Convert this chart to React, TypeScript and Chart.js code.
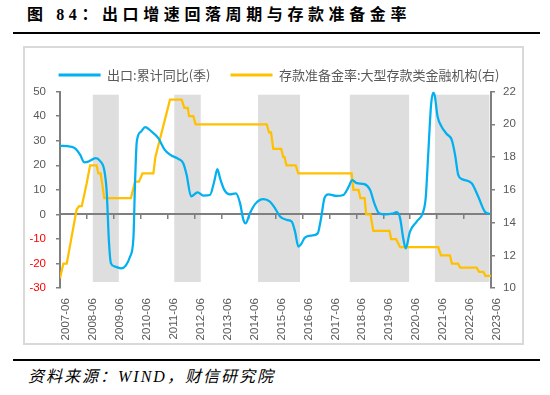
import React, { useEffect, useRef } from "react";
import { Chart, registerables } from "chart.js";

Chart.register(...registerables);

// ---- data ----
const yearLabels = [
  "2007-06", "2008-06", "2009-06", "2010-06", "2011-06", "2012-06", "2013-06", "2014-06", "2015-06",
  "2016-06", "2017-06", "2018-06", "2019-06", "2020-06", "2021-06", "2022-06", "2023-06",
];

// month offsets from 2007-06 (x positions on the time axis)
const exportMonths = [
  0, 4.5, 7, 9, 10.8, 12.6, 15.9, 17.8, 19.7, 20.8, 21.8, 22.7, 24.5, 27.2, 29.3, 31.2, 32.7, 33.4, 34.2,
  36.1, 37.9, 40.8, 43.8, 46.5, 49, 52.7, 54.9, 56.4, 58.4, 61.3, 63.8, 66.8, 68.7, 70.1, 71.3, 73.2, 75.7,
  78.4, 80.2, 81.7, 82.7, 84.6, 86.9, 90.6, 93.5, 95.8, 98, 101, 103.2, 104.7, 106.2, 107.4, 109.1, 112.1,
  114.8, 116.3, 117.8, 119.5, 123.2, 126.2, 128.4, 130.2, 132.2, 135.6, 138.1, 140, 142.1, 144.8, 148, 150,
  151.5, 152.9, 154, 155.9, 158.9, 161.8, 162.9, 164.1, 165.3, 166.3, 167, 168.2, 170, 172.3, 174.5, 176,
  177.4, 179.2, 183.4, 186.3, 189.3, 191.6,
];
const exportYoY = [
  27.9, 27.6, 26.7, 24.2, 21.2, 21.5, 22.9, 21.8, 18.1, 9.3, -11, -19.9, -21.2, -21.9, -20.8, -17.2, -9.7, 12,
  29.6, 33.7, 35.5, 33.7, 31, 26.5, 24.3, 22.6, 20.8, 16.1, 7.3, 9, 7.7, 7.9, 13.4, 18.4, 14.7, 10, 8.2, 8.6,
  4.6, -2.2, -3.6, 0.5, 4.2, 6.2, 5.2, 2.5, -0.8, -2.2, -2.9, -7, -13.1, -12.1, -9.4, -8.6, -7.7, -1.5, 6.6,
  8.2, 7.5, 7.9, 10.9, 14, 12.7, 12.3, 10, 4.6, 0.5, 0, 0.3, 0.9, -1.5, -9.7, -13.8, -7, -2.9, 1.1, 6.6, 25.6,
  44.6, 49.5, 48, 39.8, 35.7, 32.7, 30.3, 24.2, 16.1, 14.3, 12.7, 7.3, 1.1, 0.2,
];

const rrrMonths = [
  0, 1.5, 3.0, 7.4, 8.5, 9.7, 11.9, 13.4, 16.3, 17.1, 18.1, 19.0, 19.7, 31.6, 33.4, 35.2, 36.7, 41.6, 42.5,
  49.0, 54.2, 55.4, 56.9, 57.5, 59.4, 60.4, 92.1, 93.1, 94.0, 95.0, 98.5, 99.5, 100.0, 100.9, 105.0, 106.1,
  129.9, 130.7, 133.0, 133.8, 135.7, 136.4, 138.3, 139.6, 146.8, 147.5, 149.7, 151.5, 168.5, 169.7, 173.7,
  174.6, 177.3, 178.3, 185.6, 186.7, 188.6, 189.5, 192,
];
const rrrValues = [
  10.6, 11.5, 11.5, 14.8, 15.0, 15.0, 16.4, 17.5, 17.5, 17.0, 17.0, 16.2, 15.5, 15.5, 16.5, 16.5, 17.0, 17.0,
  18.0, 21.5, 21.5, 21.0, 21.0, 20.5, 20.5, 20.0, 20.0, 19.5, 19.5, 18.5, 18.5, 18.0, 18.0, 17.5, 17.5, 17.0,
  17.0, 16.0, 16.0, 15.5, 15.5, 14.5, 14.5, 13.5, 13.5, 13.0, 13.0, 12.5, 12.5, 12.0, 12.0, 11.5, 11.5, 11.25,
  11.25, 11.0, 11.0, 10.75, 10.75,
];

// shaded periods (month offsets) and their vertical extent on the left axis
const bandStarts = [14.6, 50.9, 88.2, 129.1, 167.0];
const bandEnds = [26.2, 62.7, 106.9, 155.5, 191.3];
const bandTop = 48.7;
const bandBottom = -27.5;

const seriesNames = ["出口:累计同比(季)", "存款准备金率:大型存款类金融机构(右)"];

const TICK_FONT = '"Liberation Sans", "Noto Sans CJK SC", sans-serif';
const CJK_FONT = '"Noto Sans CJK SC", "Liberation Sans", sans-serif';
const AXIS_GREY = "#7F7F7F";
const TEXT_GREY = "#595959";

const bandsPlugin = {
  id: "bands",
  beforeDraw(chart: any) {
    const { ctx, scales } = chart;
    const x = scales.x;
    const y = scales.y;
    ctx.save();
    ctx.fillStyle = "#DEDEDE";
    bandStarts.forEach((s, i) => {
      const x0 = x.getPixelForValue(s);
      const x1 = x.getPixelForValue(bandEnds[i]);
      const y0 = y.getPixelForValue(bandTop);
      const y1 = y.getPixelForValue(bandBottom);
      ctx.fillRect(x0, y0, x1 - x0, y1 - y0);
    });
    ctx.restore();
  },
};

function ChartBox() {
  const ref = useRef<HTMLCanvasElement | null>(null);
  useEffect(() => {
    if (!ref.current) return;
    const chart = new Chart(ref.current, {
      type: "line",
      data: {
        datasets: [
          {
            label: seriesNames[0],
            data: exportMonths.map((m, i) => ({ x: m, y: exportYoY[i] })),
            borderColor: "#00B0F0",
            backgroundColor: "#00B0F0",
            borderWidth: 2.25,
            pointRadius: 0,
            cubicInterpolationMode: "monotone",
            xAxisID: "x",
            yAxisID: "y",
          },
          {
            label: seriesNames[1],
            data: rrrMonths.map((m, i) => ({ x: m, y: rrrValues[i] })),
            borderColor: "#FFC000",
            backgroundColor: "#FFC000",
            borderWidth: 2.25,
            pointRadius: 0,
            tension: 0,
            xAxisID: "x",
            yAxisID: "y1",
          },
        ],
      },
      options: {
        animation: false,
        responsive: false,
        devicePixelRatio: 1,
        layout: { padding: { left: 8, top: 1.5, right: 0, bottom: 0 } },
        plugins: {
          tooltip: { enabled: false },
          legend: {
            position: "top",
            labels: {
              boxWidth: 42,
              boxHeight: 3,
              padding: 20,
              color: TEXT_GREY,
              font: { size: 13, family: CJK_FONT },
              generateLabels: (c: any) =>
                Chart.defaults.plugins.legend.labels
                  .generateLabels(c)
                  .map((l: any) => ({ ...l, lineWidth: 0 })),
            },
          },
        },
        scales: {
          x: {
            type: "linear",
            position: "bottom",
            min: 0,
            max: 192,
            grid: { display: false, drawTicks: false },
            border: { display: false },
            ticks: {
              stepSize: 12,
              autoSkip: false,
              maxRotation: 90,
              minRotation: 90,
              padding: 10,
              labelOffset: 6,
              color: TEXT_GREY,
              font: { size: 11.5, family: TICK_FONT },
              callback: (v: any) => yearLabels[Math.round(Number(v) / 12)] ?? "",
            },
            afterFit: (s: any) => {
              s.height = 55.8;
            },
          },
          xz: {
            type: "linear",
            axis: "x",
            position: { y: 0 },
            min: 0,
            max: 192,
            ticks: { display: false, stepSize: 12 },
            grid: { drawOnChartArea: false, drawTicks: true, tickLength: 4, color: AXIS_GREY, lineWidth: 1.5 },
            border: { display: true, color: AXIS_GREY, width: 2 },
          },
          y: {
            type: "linear",
            position: "left",
            min: -30,
            max: 50,
            ticks: {
              stepSize: 10,
              padding: 10,
              color: (c: any) => (c.tick && c.tick.value < 0 ? "#FF0000" : TEXT_GREY),
              font: { size: 11.5, family: TICK_FONT },
            },
            grid: { drawOnChartArea: false, tickLength: 4, color: AXIS_GREY, lineWidth: 1.5 },
            border: { display: true, color: AXIS_GREY, width: 2 },
            afterFit: (s: any) => {
              s.width = 52;
            },
          },
          y1: {
            type: "linear",
            position: "right",
            min: 10,
            max: 22,
            ticks: {
              stepSize: 2,
              padding: 8,
              color: TEXT_GREY,
              font: { size: 11.5, family: TICK_FONT },
            },
            grid: { drawOnChartArea: false, tickLength: 4, color: AXIS_GREY, lineWidth: 1.5 },
            border: { display: true, color: AXIS_GREY, width: 2 },
            afterFit: (s: any) => {
              s.width = 59;
            },
          },
        },
      } as any,
      plugins: [bandsPlugin],
    });
    return () => chart.destroy();
  }, []);
  return (
    <canvas
      ref={ref}
      width={550}
      height={297}
      style={{ position: "absolute", left: 0, top: 47, width: 550, height: 297 }}
    />
  );
}

export default function App() {
  return (
    <div style={{ position: "absolute", left: 0, top: 0, width: 550, height: 395, background: "#fff", overflow: "hidden" }}>
      <div
        style={{
          position: "absolute",
          left: 27,
          top: 4,
          fontSize: 16,
          fontWeight: "bold",
          letterSpacing: "4.6px",
          lineHeight: "22px",
          whiteSpace: "nowrap",
          color: "#000",
          fontFamily: '"Liberation Serif", "Noto Sans CJK SC", serif',
        }}
      >
        图 84：出口增速回落周期与存款准备金率
      </div>
      <div style={{ position: "absolute", left: 13, top: 32, width: 527, height: 2, background: "#000" }} />
      <div
        style={{
          position: "absolute",
          left: 23,
          top: 46,
          width: 501,
          height: 299,
          boxSizing: "border-box",
          border: "2px solid #D9D9D9",
        }}
      />
      <ChartBox />
      <div style={{ position: "absolute", left: 13, top: 359, width: 527, height: 2, background: "#000" }} />
      <div
        style={{
          position: "absolute",
          left: 28,
          top: 368,
          fontSize: 16,
          fontStyle: "italic",
          lineHeight: "18px",
          letterSpacing: "2px",
          whiteSpace: "nowrap",
          color: "#000",
          fontFamily: '"Liberation Serif", "Noto Sans CJK SC", serif',
        }}
      >
        资料来源：WIND，财信研究院
      </div>
    </div>
  );
}
